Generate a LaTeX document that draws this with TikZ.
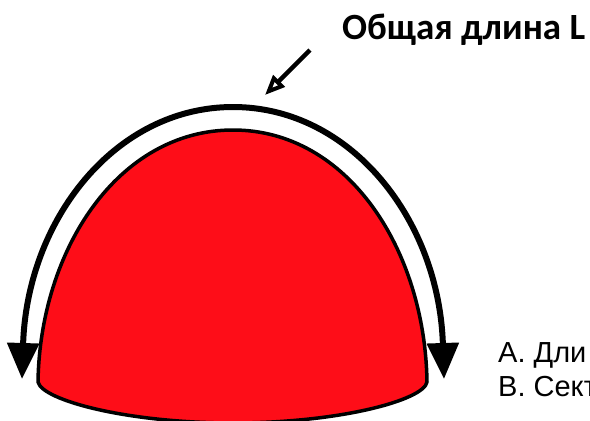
\documentclass[tikz,border=0pt]{standalone}
\usepackage{fontspec}
\setmainfont{Liberation Sans}
\newfontfamily\labelfont{Carlito}
\usetikzlibrary{arrows.meta}

\begin{document}
\begin{tikzpicture}[x=1pt, y=-1pt, >={Triangle[length=36pt, width=31pt]}]
    \useasboundingbox (0,0) rectangle (590,421);
    \begin{scope}
        % the dome runs past the lower edge of the page
        \clip (0,0) rectangle (590,421);
        \draw[line width=3.5pt, fill={rgb,255:red,254;green,13;blue,24}, line join=round]
            (38,382) .. controls (40,250) and (118,130) .. (233,130)
            .. controls (348,130) and (425,250) .. (427,382)
            .. controls (424,400) and (340,423) .. (233,423)
            .. controls (126,423) and (42,400) .. (38,382) -- cycle;
        \node[anchor=base west, inner sep=0pt] (optA) at (498,362) {\fontsize{29}{32}\selectfont А. Дли};
        \node[anchor=base west, inner sep=0pt] (optB) at (498,396) {\fontsize{29}{32}\selectfont В. Сект};
    \end{scope}
    \draw[<->, line width=6pt] (22,379) .. controls (27,220) and (115,107) .. (233,107)
        .. controls (351,107) and (439,220) .. (444,379);
    \draw[-{Triangle[open, length=20pt, width=16pt, line width=4pt]}, line width=4.5pt] (310,50) -- (265,95);
    \node[anchor=base west, font=\labelfont\bfseries, inner sep=0pt] (title) at (342,39) {\fontsize{37}{40}\selectfont Общая длина L};
\end{tikzpicture}
\end{document}
